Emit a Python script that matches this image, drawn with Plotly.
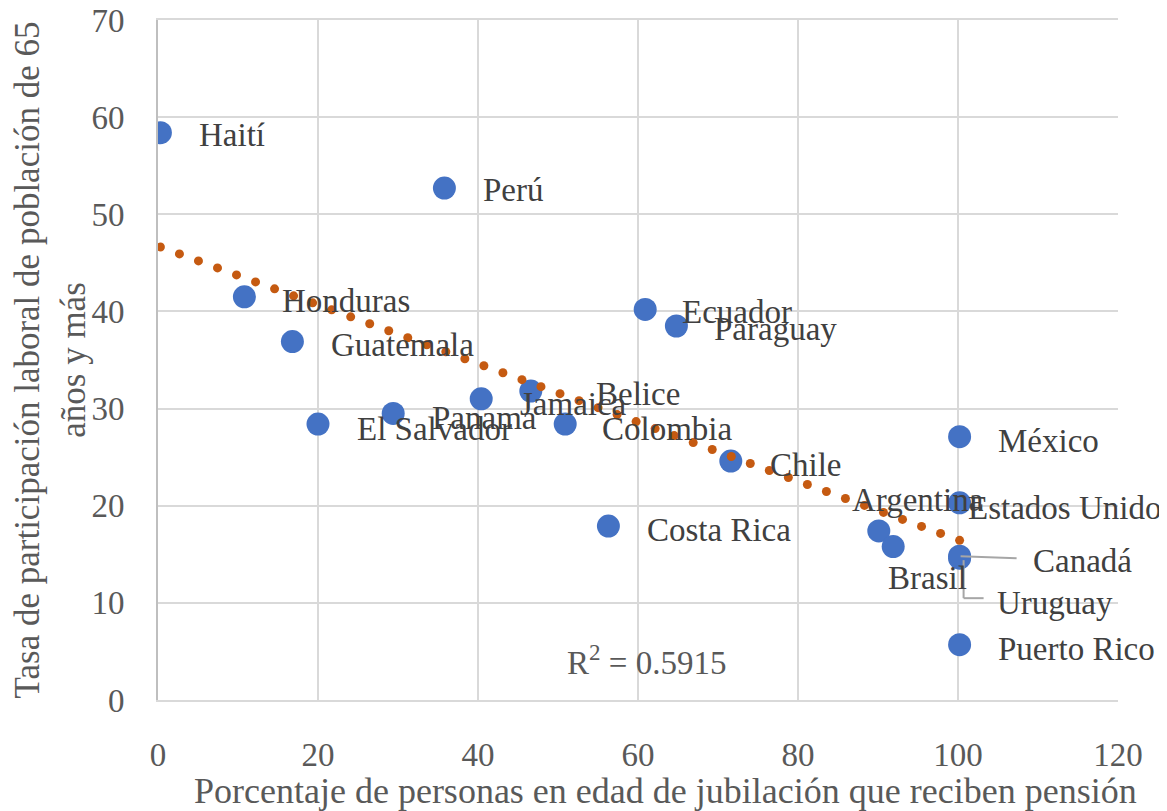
import numpy as np
import plotly.graph_objects as go

countries = ["Haití", "Perú", "Honduras", "Guatemala", "El Salvador", "Panama", "Jamaica",
             "Belice", "Colombia", "Ecuador", "Paraguay", "Costa Rica", "Chile", "Argentina",
             "Brasil", "México", "Estados Unidos", "Canadá", "Uruguay", "Puerto Rico"]
pension_pct = [0.3, 35.8, 10.8, 16.8, 20.0, 29.4, 40.4, 46.6, 50.9, 60.9, 64.8, 56.3, 71.6,
               90.1, 91.9, 100.2, 100.2, 100.2, 100.2, 100.2]
labor_rate = [58.4, 52.7, 41.5, 36.9, 28.4, 29.5, 31.0, 31.8, 28.4, 40.2, 38.5, 17.9, 24.6,
              17.4, 15.8, 27.1, 20.3, 14.8, 14.6, 5.7]
r2_text = "R<sup>2</sup> = 0.5915"
x_title = "Porcentaje de personas en edad de jubilación que reciben pensión"
y_title = "Tasa de participación laboral de población de 65<br>años y más"

# label offsets in pixels (dx to left edge of text, dy downwards to text centre)
label_offsets = {
    "Haití": (37, 2), "Perú": (37, 2), "Honduras": (36, 4), "Guatemala": (37, 3),
    "El Salvador": (37, 5), "Panama": (37, 5), "Jamaica": (37, 5), "Belice": (63, 3),
    "Colombia": (35, 5), "Ecuador": (35, 3), "Paraguay": (36, 3), "Costa Rica": (37, 4),
    "Chile": (37, 4), "Argentina": (-29, -31), "Brasil": (-7, 31), "México": (36, 4),
    "Estados Unidos": (6, 5), "Canadá": (71, 5), "Uruguay": (35, 45), "Puerto Rico": (36, 4),
}

FONT = "Liberation Serif"
LBL = 33
x = np.array(pension_pct)
y = np.array(labor_rate)
slope, intercept = np.polyfit(x, y, 1)
tx = np.linspace(x.min(), x.max(), 43)
ty = intercept + slope * tx

fig = go.Figure()
fig.add_trace(go.Scatter(x=pension_pct, y=labor_rate, mode="markers",
                         marker=dict(size=23, color="#4472C4"), hoverinfo="text",
                         text=countries, showlegend=False))
fig.add_trace(go.Scatter(x=tx, y=ty, mode="markers",
                         marker=dict(size=9, color="#C55A11"), showlegend=False,
                         hoverinfo="skip"))

for name, px_, py_ in zip(countries, pension_pct, labor_rate):
    dx, dy = label_offsets[name]
    fig.add_annotation(x=px_, y=py_, xref="x", yref="y", text=name, showarrow=False,
                       xanchor="left", yanchor="middle", xshift=dx, yshift=-dy,
                       font=dict(family=FONT, size=LBL, color="#404040"))

# leader lines for Canadá and Uruguay
ci = countries.index("Canadá")
ui = countries.index("Uruguay")
lead = dict(color="#A6A6A6", width=2)
fig.add_shape(type="line", xref="x", yref="y", xsizemode="pixel", ysizemode="pixel",
              xanchor=pension_pct[ci], yanchor=labor_rate[ci], x0=1, y0=0, x1=57, y1=-2, line=lead)
fig.add_shape(type="line", xref="x", yref="y", xsizemode="pixel", ysizemode="pixel",
              xanchor=pension_pct[ui], yanchor=labor_rate[ui], x0=4, y0=-2, x1=4, y1=-40, line=lead)
fig.add_shape(type="line", xref="x", yref="y", xsizemode="pixel", ysizemode="pixel",
              xanchor=pension_pct[ui], yanchor=labor_rate[ui], x0=4, y0=-40, x1=24, y1=-40, line=lead)

fig.add_annotation(x=50.9, y=4.1, xref="x", yref="y", text=r2_text, showarrow=False,
                   xanchor="left", yanchor="middle",
                   font=dict(family=FONT, size=LBL, color="#595959"))

# x-axis title (offset to the right as in the reference)
fig.add_annotation(x=0.5, y=0, xref="paper", yref="paper", text=x_title, showarrow=False,
                   xanchor="center", yanchor="middle", xshift=27, yshift=-91,
                   font=dict(family=FONT, size=36, color="#595959"))

fig.update_layout(
    width=1159, height=803,
    margin=dict(l=150, r=49, t=12, b=111),
    paper_bgcolor="white", plot_bgcolor="white",
    font=dict(family=FONT, size=33, color="#595959"),
    xaxis=dict(range=[0, 120], dtick=20, showgrid=True, gridcolor="#D9D9D9", gridwidth=2,
               zeroline=False, showline=True, mirror=True, linecolor="#D9D9D9", linewidth=2,
               ticks="", automargin=False,
               ticklabelstandoff=24, ticklabeloverflow="allow",
               tickfont=dict(family=FONT, size=33, color="#595959")),
    yaxis=dict(range=[0, 70], dtick=10, showgrid=True, gridcolor="#D9D9D9", gridwidth=2,
               zeroline=False, showline=True, linecolor="#BFBFBF", linewidth=2, ticks="",
               automargin=False, ticklabelstandoff=25, ticklabeloverflow="allow",
               tickfont=dict(family=FONT, size=33, color="#595959"),
               title=dict(text=y_title,
                          font=dict(family=FONT, size=35, color="#595959"), standoff=7)),
)

fig.write_html("out.html")
